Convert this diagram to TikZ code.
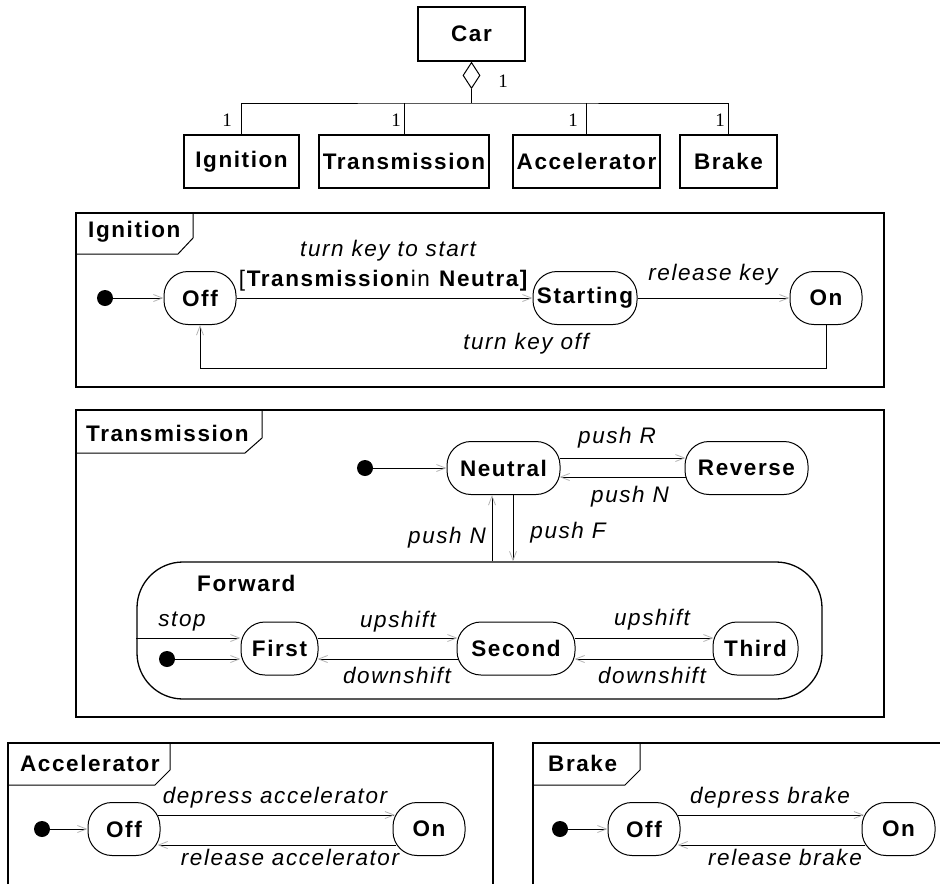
\documentclass[tikz,border=0pt]{standalone}
\usepackage{fontspec}
\setmainfont{Liberation Sans}[LetterSpace=7]
\newfontfamily\serifone{Liberation Serif}
\usetikzlibrary{arrows.meta,shapes.geometric}
\newcommand{\bigsz}{\fontsize{22.5}{26}\selectfont}
\begin{document}
\begin{tikzpicture}[x=1pt,y=-1pt,
  cls/.style={draw, line width=1.8pt, minimum height=53pt, inner sep=0pt, font=\bfseries\bigsz},
  st/.style={draw, line width=1pt, rounded corners=24pt, minimum height=53pt, inner sep=0pt, font=\bfseries\bigsz},
  init/.style={circle, fill=black, inner sep=0pt, minimum size=16pt},
  lbl/.style={inner sep=0pt, font=\itshape\bigsz},
  mult/.style={inner sep=0pt, font=\serifone\fontsize{19}{22}\selectfont},
  tabtxt/.style={inner sep=0pt, anchor=west, font=\bfseries\bigsz},
  panel/.style={draw, line width=1.6pt},
  tabline/.style={draw, line width=1pt},
  conn/.style={line width=1pt},
  tr/.style={line width=0.9pt, -{Straight Barb[length=9pt,width=7pt,color=gray!60,line width=0.8pt]}}
]
\useasboundingbox (0,0) rectangle (940,884);

% ---------- class diagram ----------
\node[cls, minimum width=107pt, minimum height=54pt] (car) at (471.5,34) {Car};
\node[draw, diamond, line width=1pt, minimum width=17pt, minimum height=26pt, inner sep=0pt, anchor=north] (agg) at (car.south) {};
\node[cls, minimum width=115pt] (ign) at (241.5,161.5) {Ignition};
\node[cls, minimum width=170pt] (trn) at (404,161.5) {Transmission};
\node[cls, minimum width=147pt] (acc) at (586.5,161.5) {Accelerator};
\node[cls, minimum width=97pt] (brk) at (728.5,161.5) {Brake};
\coordinate (bus) at (471.5,103);
\draw[conn] (agg.south) -- (bus);
\draw[conn] (ign.north) |- (bus) -| (brk.north);
\draw[conn] (trn.north) -- (trn.north |- bus);
\draw[conn] (acc.north) -- (acc.north |- bus);
\node[mult] (m0) at (503,81) {1};
\node[mult] (m1) at (227,120) {1};
\node[mult] (m2) at (396,120) {1};
\node[mult] (m3) at (573,120) {1};
\node[mult] (m4) at (720,120) {1};

% ---------- Ignition ----------
\draw[panel] (76,213) rectangle (884,387);
\draw[tabline] (76,254) -- (178,254) -- (193,238) -- (193,213);
\node[tabtxt] (tIgn) at (88,232) {Ignition};
\node[init] (i1) at (105,298) {};
\node[st, minimum width=72pt] (off1) at (200,298) {Off};
\node[st, minimum width=104pt] (start1) at (585,298) {Starting};
\node[st, minimum width=72pt] (on1) at (826,298) {On};
\draw[tr] (i1) -- (off1);
\draw[tr] (off1) -- (start1);
\draw[tr] (start1) -- (on1);
\draw[tr] (on1.south) -- ++(0,43) -| (off1.south);
\node[lbl] (l1) at (388,251) {turn key to start};
\node[lbl] (l2) at (384,281) {\upshape[\textbf{Transmission}in \textbf{Neutra]}};
\node[lbl] (l3) at (713,275) {release key};
\node[lbl] (l4) at (526,344) {turn key off};

% ---------- Transmission ----------
\draw[panel] (76,410) rectangle (884,717);
\draw[tabline] (76,453) -- (245,453) -- (262,438) -- (262,410);
\node[tabtxt] (tTrn) at (86,433) {Transmission};
\node[init] (i2) at (365,468) {};
\node[st, minimum width=113pt] (neu) at (503.5,468) {Neutral};
\node[st, minimum width=123pt] (rev) at (746.5,468) {Reverse};
\draw[tr] (i2) -- (neu);
\draw[tr] ([xshift=-1pt,yshift=10pt]neu.east) -- ([xshift=1pt,yshift=10pt]rev.west);
\draw[tr] ([xshift=1pt,yshift=-9pt]rev.west) -- ([xshift=-1pt,yshift=-9pt]neu.east);
\node[lbl] (l5) at (617,438) {push R};
\node[lbl] (l6) at (630,497) {push N};

\node[draw, line width=1.3pt, rounded corners=46pt, minimum width=685pt, minimum height=137pt, inner sep=0pt] (fwd) at (479.5,630.5) {};
\node[tabtxt] (tFwd) at (197,583) {Forward};
\coordinate (pn) at ([xshift=-11.5pt]neu.south);
\coordinate (pf) at ([xshift=9.5pt]neu.south);
\draw[tr] (pn |- fwd.north) -- (pn);
\draw[tr] (pf) -- (pf |- fwd.north);
\node[lbl] (l7) at (447,538) {push N};
\node[lbl] (l8) at (568,533) {push F};

\node[init] (i3) at (167,659) {};
\node[st, minimum width=77pt] (first) at (279.5,648.5) {First};
\node[st, minimum width=118pt] (second) at (516,648.5) {Second};
\node[st, minimum width=85pt] (third) at (755.5,648.5) {Third};
\coordinate (fs) at ([yshift=10.5pt]first.west);
\draw[tr] (fwd.west |- fs) -- (fs);
\draw[tr] (i3) -- (first.west |- i3);
\draw[tr] ([xshift=-1pt,yshift=10.5pt]first.east) -- ([xshift=1pt,yshift=10.5pt]second.west);
\draw[tr] ([xshift=1pt,yshift=-10.5pt]second.west) -- ([xshift=-1pt,yshift=-10.5pt]first.east);
\draw[tr] ([xshift=-1pt,yshift=10.5pt]second.east) -- ([xshift=1pt,yshift=10.5pt]third.west);
\draw[tr] ([xshift=1pt,yshift=-10.5pt]third.west) -- ([xshift=-1pt,yshift=-10.5pt]second.east);
\node[lbl] (l9) at (182,622) {stop};
\node[lbl] (l10) at (398,622) {upshift};
\node[lbl] (l11) at (397,675) {downshift};
\node[lbl] (l12) at (652,620) {upshift};
\node[lbl] (l13) at (652,675) {downshift};

% ---------- Accelerator ----------
\draw[panel] (8,884) -- (8,743) -- (493,743) -- (493,884);
\draw[tabline] (8,785) -- (155,785) -- (170,770) -- (170,743);
\node[tabtxt] (tAcc) at (20,763) {Accelerator};
\node[init] (i4) at (42,829) {};
\node[st, minimum width=72pt] (off4) at (124,829) {Off};
\node[st, minimum width=72pt] (on4) at (429,829) {On};
\draw[tr] (i4) -- (off4);
\draw[tr] ([xshift=-2.5pt,yshift=14pt]off4.east) -- ([xshift=2.5pt,yshift=14pt]on4.west);
\draw[tr] ([xshift=3pt,yshift=-16pt]on4.west) -- ([xshift=-3pt,yshift=-16pt]off4.east);
\node[lbl] (l14) at (275,798) {depress accelerator};
\node[lbl] (l15) at (290,857) {release accelerator};

% ---------- Brake ----------
\draw[panel] (533,884) -- (533,743) -- (940,743);
\draw[tabline] (533,785) -- (625,785) -- (640,770) -- (640,743);
\node[tabtxt] (tBrk) at (548,763) {Brake};
\node[init] (i5) at (560,829) {};
\node[st, minimum width=72pt] (off5) at (644,829) {Off};
\node[st, minimum width=73pt] (on5) at (898.5,829) {On};
\draw[tr] (i5) -- (off5);
\draw[tr] ([xshift=-2.5pt,yshift=14pt]off5.east) -- ([xshift=2.5pt,yshift=14pt]on5.west);
\draw[tr] ([xshift=3pt,yshift=-16pt]on5.west) -- ([xshift=-3pt,yshift=-16pt]off5.east);
\node[lbl] (l16) at (770,798) {depress brake};
\node[lbl] (l17) at (785,857) {release brake};
\end{tikzpicture}
\end{document}
